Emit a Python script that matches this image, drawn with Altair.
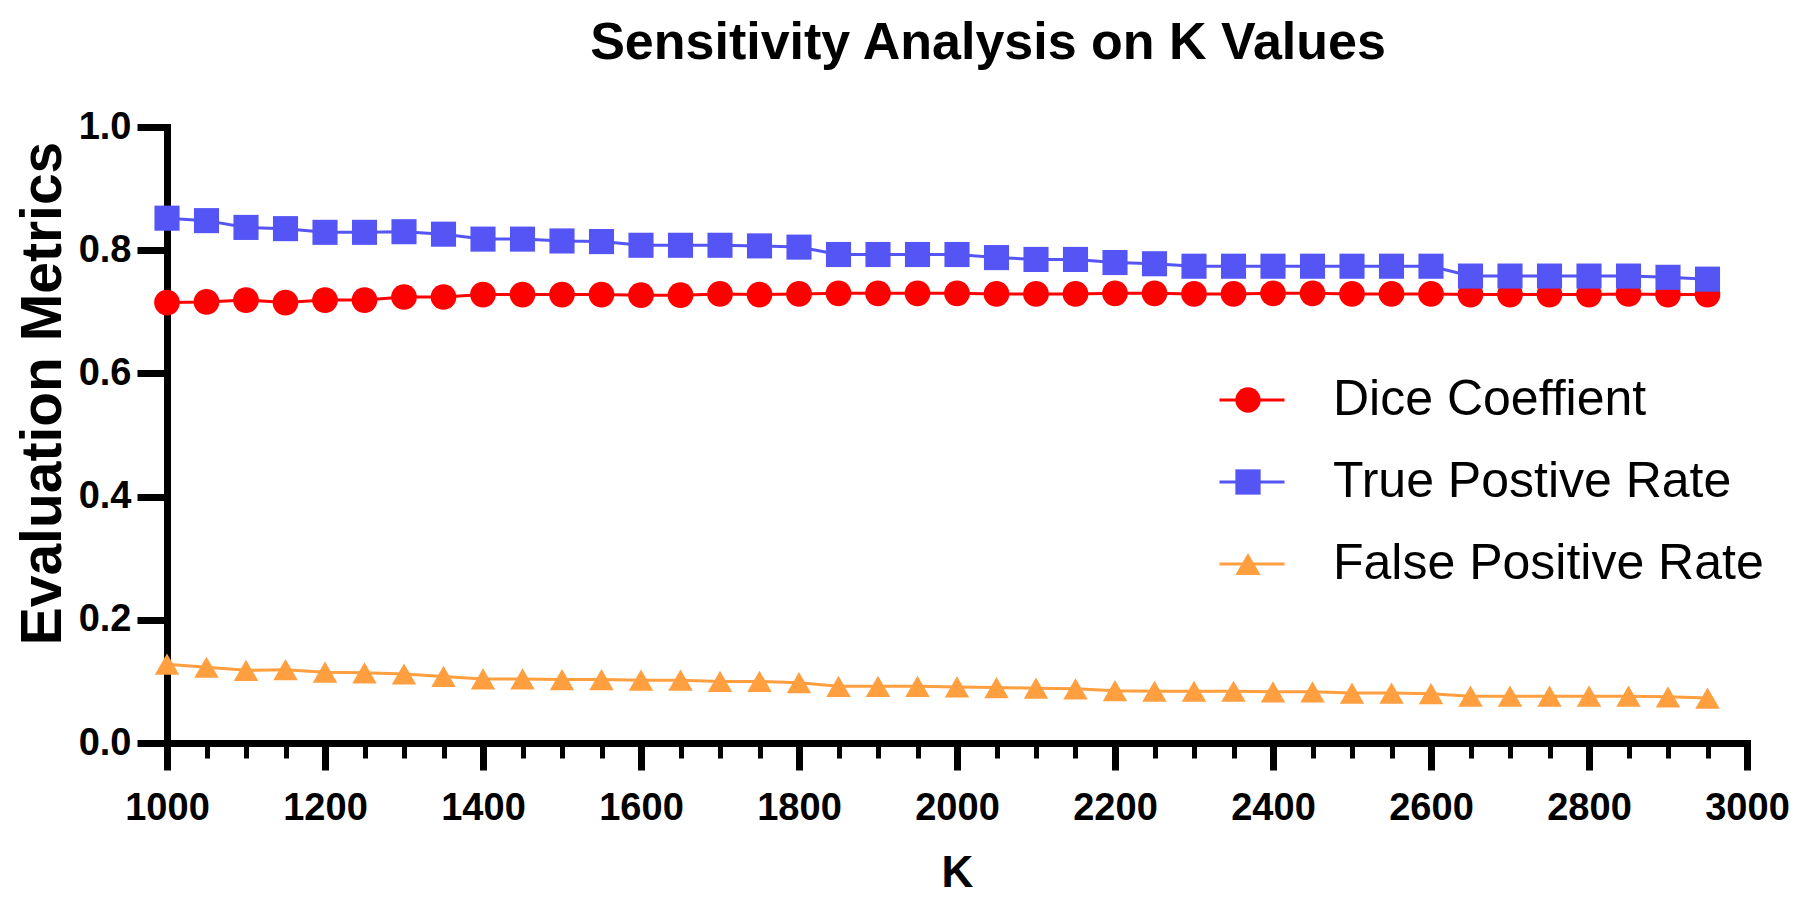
import altair as alt
import pandas as pd

k_values = [1000, 1050, 1100, 1150, 1200, 1250, 1300, 1350, 1400, 1450,
            1500, 1550, 1600, 1650, 1700, 1750, 1800, 1850, 1900, 1950,
            2000, 2050, 2100, 2150, 2200, 2250, 2300, 2350, 2400, 2450,
            2500, 2550, 2600, 2650, 2700, 2750, 2800, 2850, 2900, 2950]

dice = [0.715, 0.716, 0.719, 0.715, 0.719, 0.719, 0.724, 0.724, 0.728, 0.728,
        0.728, 0.728, 0.727, 0.727, 0.729, 0.728, 0.729, 0.730, 0.730, 0.730,
        0.730, 0.729, 0.729, 0.729, 0.730, 0.730, 0.729, 0.729, 0.730, 0.730,
        0.729, 0.729, 0.729, 0.728, 0.728, 0.728, 0.728, 0.729, 0.728, 0.728]

tpr = [0.852, 0.848, 0.837, 0.835, 0.829, 0.829, 0.830, 0.826, 0.818, 0.818,
       0.815, 0.814, 0.808, 0.808, 0.808, 0.807, 0.805, 0.793, 0.793, 0.793,
       0.793, 0.788, 0.785, 0.785, 0.780, 0.778, 0.774, 0.774, 0.774, 0.774,
       0.774, 0.774, 0.774, 0.758, 0.758, 0.758, 0.758, 0.758, 0.756, 0.753]

fpr = [0.128, 0.123, 0.118, 0.119, 0.115, 0.114, 0.112, 0.108, 0.104, 0.104,
       0.103, 0.103, 0.102, 0.102, 0.100, 0.100, 0.098, 0.092, 0.092, 0.092,
       0.091, 0.090, 0.089, 0.088, 0.085, 0.084, 0.084, 0.084, 0.083, 0.083,
       0.081, 0.081, 0.080, 0.076, 0.076, 0.076, 0.076, 0.076, 0.075, 0.073]

series_names = ["Dice Coeffient", "True Postive Rate", "False Positive Rate"]
series_colors = ["#FF0000", "#5555F5", "#FF9F40"]
series_shapes = ["circle", "square", "triangle-up"]
series_sizes = [660, 600, 850]

x_major_ticks = [1000, 1200, 1400, 1600, 1800, 2000, 2200, 2400, 2600, 2800, 3000]
x_minor_ticks = list(range(1000, 3001, 50))
y_ticks = [0.0, 0.2, 0.4, 0.6, 0.8, 1.0]

# distinct keys per channel so Vega-Lite does not merge the legends
LINE_PREFIX = "line:"
SIZE_PREFIX = "size:"
line_names = [LINE_PREFIX + n for n in series_names]
size_names = [SIZE_PREFIX + n for n in series_names]

rows = []
for name, lname, sname, vals in zip(series_names, line_names, size_names, [dice, tpr, fpr]):
    for k, v in zip(k_values, vals):
        rows.append({"K": k, "value": v, "metric": name,
                     "metric_line": lname, "metric_size": sname})
df = pd.DataFrame(rows)

FONT = "Liberation Sans"
major_test = "indexof(" + str(x_major_ticks) + ", datum.value) >= 0"

x_enc = alt.X(
    "K:Q",
    scale=alt.Scale(domain=[1000, 3000], nice=False, zero=False),
    axis=alt.Axis(
        values=x_minor_ticks,
        labelExpr=major_test + " ? format(datum.value, 'd') : ''",
        tickSize={"condition": {"test": major_test, "value": 27}, "value": 15},
        tickWidth={"condition": {"test": major_test, "value": 7}, "value": 5},
        labelOverlap=False,
        labelFlush=False,
        labelPadding=19,
        title="K",
        titleFontSize=44,
        titleBaseline="bottom",
        titleY=152,
    ),
)
y_enc = alt.Y(
    "value:Q",
    scale=alt.Scale(domain=[0, 1], nice=False),
    axis=alt.Axis(
        values=y_ticks,
        format=".1f",
        tickSize=30,
        tickWidth=7,
        labelPadding=6,
        title="Evaluation Metrics",
        titleFontSize=57,
        titleBaseline="alphabetic",
        titleAlign="center",
        titleAngle=270,
        titleX=-107,
        titleY=266,
    ),
)

legend_common = dict(
    orient="none",
    legendX=1051,
    legendY=243,
    title=None,
    padding=0,
    labelFont=FONT,
    labelFontSize=50,
    labelColor="black",
    clipHeight=60,
    rowPadding=22,
    labelLimit=700,
    labelOffset=47,
)

line = alt.Chart(df).mark_line(strokeWidth=3).encode(
    x=x_enc,
    y=y_enc,
    stroke=alt.Stroke(
        "metric_line:N",
        scale=alt.Scale(domain=line_names, range=series_colors),
        sort=line_names,
        legend=alt.Legend(
            symbolType="stroke",
            symbolSize=4225,
            symbolStrokeWidth=3,
            labelExpr="replace(datum.label, '" + LINE_PREFIX + "', '')",
            zindex=0,
            **legend_common,
        ),
    ),
)

# marker-only legend laid over the line legend; its labels are empty
point_legend = alt.Legend(
    symbolSize=640,
    symbolOffset=5,
    symbolStrokeWidth=0,
    symbolOpacity=1,
    labelExpr="''",
    zindex=1,
    **legend_common,
)

points = alt.Chart(df).mark_point(filled=True, opacity=1, strokeWidth=0).encode(
    x=x_enc,
    y=y_enc,
    fill=alt.Fill("metric:N", scale=alt.Scale(domain=series_names, range=series_colors),
                  sort=series_names, legend=point_legend),
    shape=alt.Shape("metric:N", scale=alt.Scale(domain=series_names, range=series_shapes),
                    sort=series_names, legend=point_legend),
    size=alt.Size("metric_size:N", scale=alt.Scale(domain=size_names, range=series_sizes),
                  legend=None),
)

chart = (
    alt.layer(line, points)
    .properties(
        width=1580,
        height=616,
        autosize=alt.AutoSizeParams(type="none"),
        padding={"left": 159, "top": 119, "right": 45, "bottom": 153},
        title=alt.TitleParams(
            "Sensitivity Analysis on K Values",
            font=FONT,
            fontSize=52,
            fontWeight="bold",
            color="black",
            anchor="middle",
            baseline="alphabetic",
            offset=1,
            dx=31,
            dy=4,
        ),
    )
    .configure_view(stroke=None)
    .configure_axis(
        grid=False,
        domainColor="black",
        domainWidth=7,
        domainCap="square",
        tickColor="black",
        labelFont=FONT,
        labelFontSize=38,
        labelFontWeight="bold",
        labelColor="black",
        titleFont=FONT,
        titleFontWeight="bold",
        titleColor="black",
    )
)

chart.save("out.html", embed_options={"renderer": "svg", "actions": False})
